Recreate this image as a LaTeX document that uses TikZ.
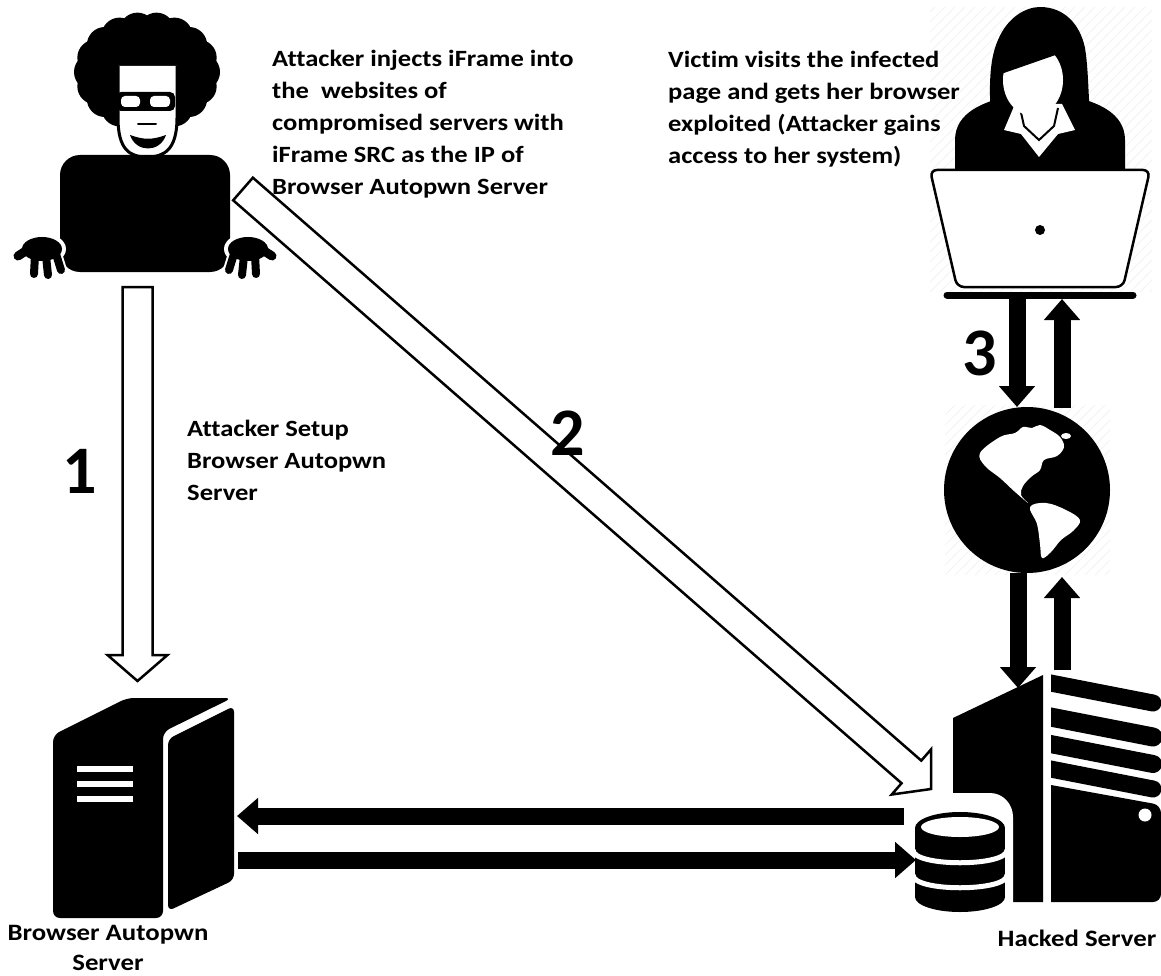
\documentclass[tikz,border=0pt]{standalone}
\usepackage{fontspec}
\setmainfont{Carlito}
\newfontfamily\lblfont{Carlito}[FakeStretch=1.14, Ligatures=NoCommon]
\usetikzlibrary{calc,arrows.meta}

\tikzset{
  txt/.style={font=\lblfont\bfseries\fontsize{23.3}{32}\selectfont, align=left, inner sep=0, anchor=base west},
  caption/.style={font=\lblfont\bfseries\fontsize{23.5}{30}\selectfont, align=center, inner sep=0, anchor=base},
  num/.style={font=\bfseries\fontsize{68}{68}\selectfont, inner sep=0, anchor=base},
  solidarrow/.style={line width=17pt, -{Triangle[width=35pt,length=21pt]}},
  hollow/.style={draw=black, fill=white, line width=2.5pt, line join=miter},
  hatch/.style={gray!10, line width=0.7pt}
}

% hollow block arrow from #1 to #2
\newcommand{\hollowarrow}[2]{%
  \draw[hollow]
    ($(#1)!15pt!90:(#2)$) --
    ($($(#2)!26pt!(#1)$)!15pt!90:(#2)$) --
    ($($(#2)!26pt!(#1)$)!30pt!90:(#2)$) --
    (#2) --
    ($($(#2)!26pt!(#1)$)!30pt!-90:(#2)$) --
    ($($(#2)!26pt!(#1)$)!15pt!-90:(#2)$) --
    ($(#1)!15pt!-90:(#2)$) -- cycle;}

\begin{document}
\begin{tikzpicture}[x=1pt,y=-1pt]
\useasboundingbox[fill=white] (0,0) rectangle (1161,976);

% ---------- faint hatching behind the victim and the globe ----------
\begin{scope}
  \clip (930,8) rectangle (1152,292);
  \foreach \i in {0,10,...,520} \draw[hatch] ({640+\i},292) -- ({930+\i},2);
\end{scope}
\begin{scope}
  \clip (945,405) rectangle (1110,575);
  \foreach \i in {0,10,...,340} \draw[hatch] ({775+\i},575) -- ({945+\i},405);
\end{scope}

% ---------- attacker ----------
\coordinate (attacker) at (145,150);
% afro
\fill (147,72) ellipse [x radius=58, y radius=45];
\foreach \a in {0,20,...,340}
  \fill ({147+55*cos(\a)},{72+42*sin(\a)}) circle (18);
% face
\draw[fill=white, line width=3pt]
  (118,66) -- (118,118) .. controls (118,150) and (130,157) .. (147,157)
  .. controls (164,157) and (177,150) .. (177,118) -- (177,66);
% glasses
\fill[rounded corners=5] (116,92) rectangle (175,111);
\fill[white, rounded corners=4] (121,96) rectangle (140,107);
\fill[white, rounded corners=4] (150,96) rectangle (170,107);
% nose line and smile
\draw[line width=2pt, line cap=round] (138,124) -- (156,124);
\fill (130,135) .. controls (136,153) and (160,153) .. (166,135)
  .. controls (152,140) and (144,140) .. (130,135) -- cycle;
% body / laptop lid
\fill[rounded corners=20] (60,155) rectangle (230,272);
% hands
\foreach \s in {0,1}{
  \begin{scope}[xshift={290pt*\s}, xscale={1-2*\s}]
    \draw[white, line width=13pt, line cap=round] (35,245) -- (18,256);
    \draw[white, line width=12pt, line cap=round] (35,255) -- (34,274) (46,256) -- (48,275) (56,254) -- (61,270);
    \fill[white] (42,249) ellipse [x radius=24, y radius=16];
    \fill (42,249) ellipse [x radius=20, y radius=12];
    \draw[line width=9pt, line cap=round] (35,245) -- (18,256);
    \draw[line width=8pt, line cap=round] (35,255) -- (34,274) (46,256) -- (48,275) (56,254) -- (61,270);
  \end{scope}}

% ---------- victim ----------
\coordinate (victim) at (1040,150);
% shoulders
\fill (955,172) -- (955,140) .. controls (955,112) and (985,102) .. (1005,97)
  -- (1075,97) .. controls (1095,102) and (1125,112) .. (1125,140) -- (1125,172) -- cycle;
% hair
\fill (992,132) .. controls (989,95) and (988,62) .. (998,40)
  .. controls (1008,16) and (1027,7) .. (1040,7)
  .. controls (1064,7) and (1080,24) .. (1085,48)
  .. controls (1090,80) and (1087,112) .. (1094,132) -- cycle;
% collar
\fill[white] (1015,104) -- (1062,104) -- (1075,130) -- (1058,134) -- (1039,157)
  -- (1021,134) -- (1004,130) -- cycle;
\draw[line width=2pt] (1020,108) -- (1024,126) -- (1039,140) -- (1054,126) -- (1058,108);
% face and fringe
\fill[white] (1033,80) ellipse [x radius=30, y radius=36];
\fill (1001,74) -- (1067,51) -- (1067,38) -- (1001,38) -- cycle;
% laptop
\draw[fill=white, line width=2.5pt, rounded corners=7]
  (930,170) -- (1150,170) -- (1123,287) -- (957,287) -- cycle;
\fill (1040,230) circle (5);
\coordinate (baseL) at (947,295);
\coordinate (baseR) at (1133,295);
\draw[line width=7pt, line cap=round] (baseL) -- (baseR);

% ---------- globe ----------
\fill (1027,490) circle (83);
\node[circle, minimum size=166pt, inner sep=0] (globe) at (1027,490) {};
\fill[white] plot[smooth cycle, tension=0.6] coordinates {
  (980,453) (1000,437) (1015,433) (1023,427) (1032,428) (1040,425)
  (1050,430) (1060,437) (1064,447) (1057,456) (1044,460) (1040,470)
  (1031,477) (1023,486) (1021,495) (1028,503) (1014,491) (1000,478) (985,466)};
\fill[white] plot[smooth cycle, tension=0.6] coordinates {
  (1030,507) (1046,503) (1066,510) (1080,520) (1073,531) (1061,540)
  (1051,552) (1042,558) (1040,544) (1037,524)};
\fill[white] (1066,436) ellipse [x radius=5, y radius=3];

% ---------- browser autopwn server ----------
\coordinate (autopwn) at (140,800);
\fill[rounded corners=7] (53,918) -- (53,735) -- (127,698) -- (232,698)
  -- (163,732) -- (163,918) -- cycle;
\fill[rounded corners=6] (168,739) -- (234,706) -- (234,880) -- (168,911) -- cycle;
\draw[white, line width=5.5pt] (77,769) -- (133,769) (77,784) -- (133,784) (77,799) -- (133,799);

% ---------- hacked server ----------
\coordinate (hacked) at (1050,800);
\fill (953,718) -- (1043,675) -- (1043,902) -- (953,902) -- cycle;
\fill[white] (940,793) -- (990,793) .. controls (1003,793) and (1013,804) .. (1013,817)
  -- (1013,920) -- (940,920) -- cycle;
\begin{scope}
  \clip (1051,660) rectangle (1170,905);
  \fill[rounded corners=8] (1040,783) -- (1161,805) -- (1161,902) -- (1040,902) -- cycle;
  \draw[line width=17pt, line cap=round] (1030,679) -- (1153,703);
  \draw[line width=19pt, line cap=round] (1030,713) -- (1153,737);
  \draw[line width=18pt, line cap=round] (1030,740) -- (1153,764);
  \draw[line width=17pt, line cap=round] (1030,765) -- (1153,789);
\end{scope}
\fill[white] (1145,815) circle (6.5);
% database
\coordinate (db) at (960,860);
\fill (915,828) rectangle (1005,897);
\fill (960,828) ellipse [x radius=45, y radius=16];
\fill (960,897) ellipse [x radius=45, y radius=15];
\fill[white] (960,827) ellipse [x radius=39, y radius=10];
\draw[white, line width=5pt] (913,850) .. controls (913,867) and (1007,867) .. (1007,850);
\draw[white, line width=5pt] (913,875) .. controls (913,892) and (1007,892) .. (1007,875);

% ---------- connectors ----------
\coordinate (a1s) at (137.5,287);
\coordinate (a1e) at (137.5,681);
\hollowarrow{a1s}{a1e}
\coordinate (a2s) at (243,189);
\coordinate (a2e) at (931,789);
\hollowarrow{a2s}{a2e}

\coordinate (s3a) at (1017,298);
\coordinate (e3a) at (1017,407);
\draw[solidarrow] (s3a) -- (e3a);
\coordinate (s3b) at (1062,408);
\coordinate (e3b) at (1062,299);
\draw[solidarrow] (s3b) -- (e3b);
\coordinate (s4a) at (1018,573);
\coordinate (e4a) at (1018,688);
\draw[solidarrow] (s4a) -- (e4a);
\coordinate (s4b) at (1062,670);
\coordinate (e4b) at (1062,577);
\draw[solidarrow] (s4b) -- (e4b);

\coordinate (h1s) at (904,816);
\coordinate (h1e) at (237,816);
\draw[solidarrow] (h1s) -- (h1e);
\coordinate (h2s) at (238,860);
\coordinate (h2e) at (916,860);
\draw[solidarrow] (h2s) -- (h2e);

% ---------- labels (base anchor sits on the last line) ----------
\node[txt] (t1) at (272,195) {Attacker injects iFrame into\\the\ \ websites of\\compromised servers with\\iFrame SRC as the IP of\\Browser Autopwn Server};
\node[txt] (t2) at (668,164) {Victim visits the infected\\page and gets her browser\\exploited (Attacker gains\\access to her system)};
\node[txt] (t3) at (187,500) {Attacker Setup\\Browser Autopwn\\Server};
\node[num] (n1) at (80,493) {1};
\node[num] (n2) at (568,455) {2};
\node[num] (n3) at (980,375) {3};
\node[caption] (c1) at (108,970) {Browser Autopwn\\Server};
\node[caption] (c2) at (1077,946) {Hacked Server};
\end{tikzpicture}
\end{document}
